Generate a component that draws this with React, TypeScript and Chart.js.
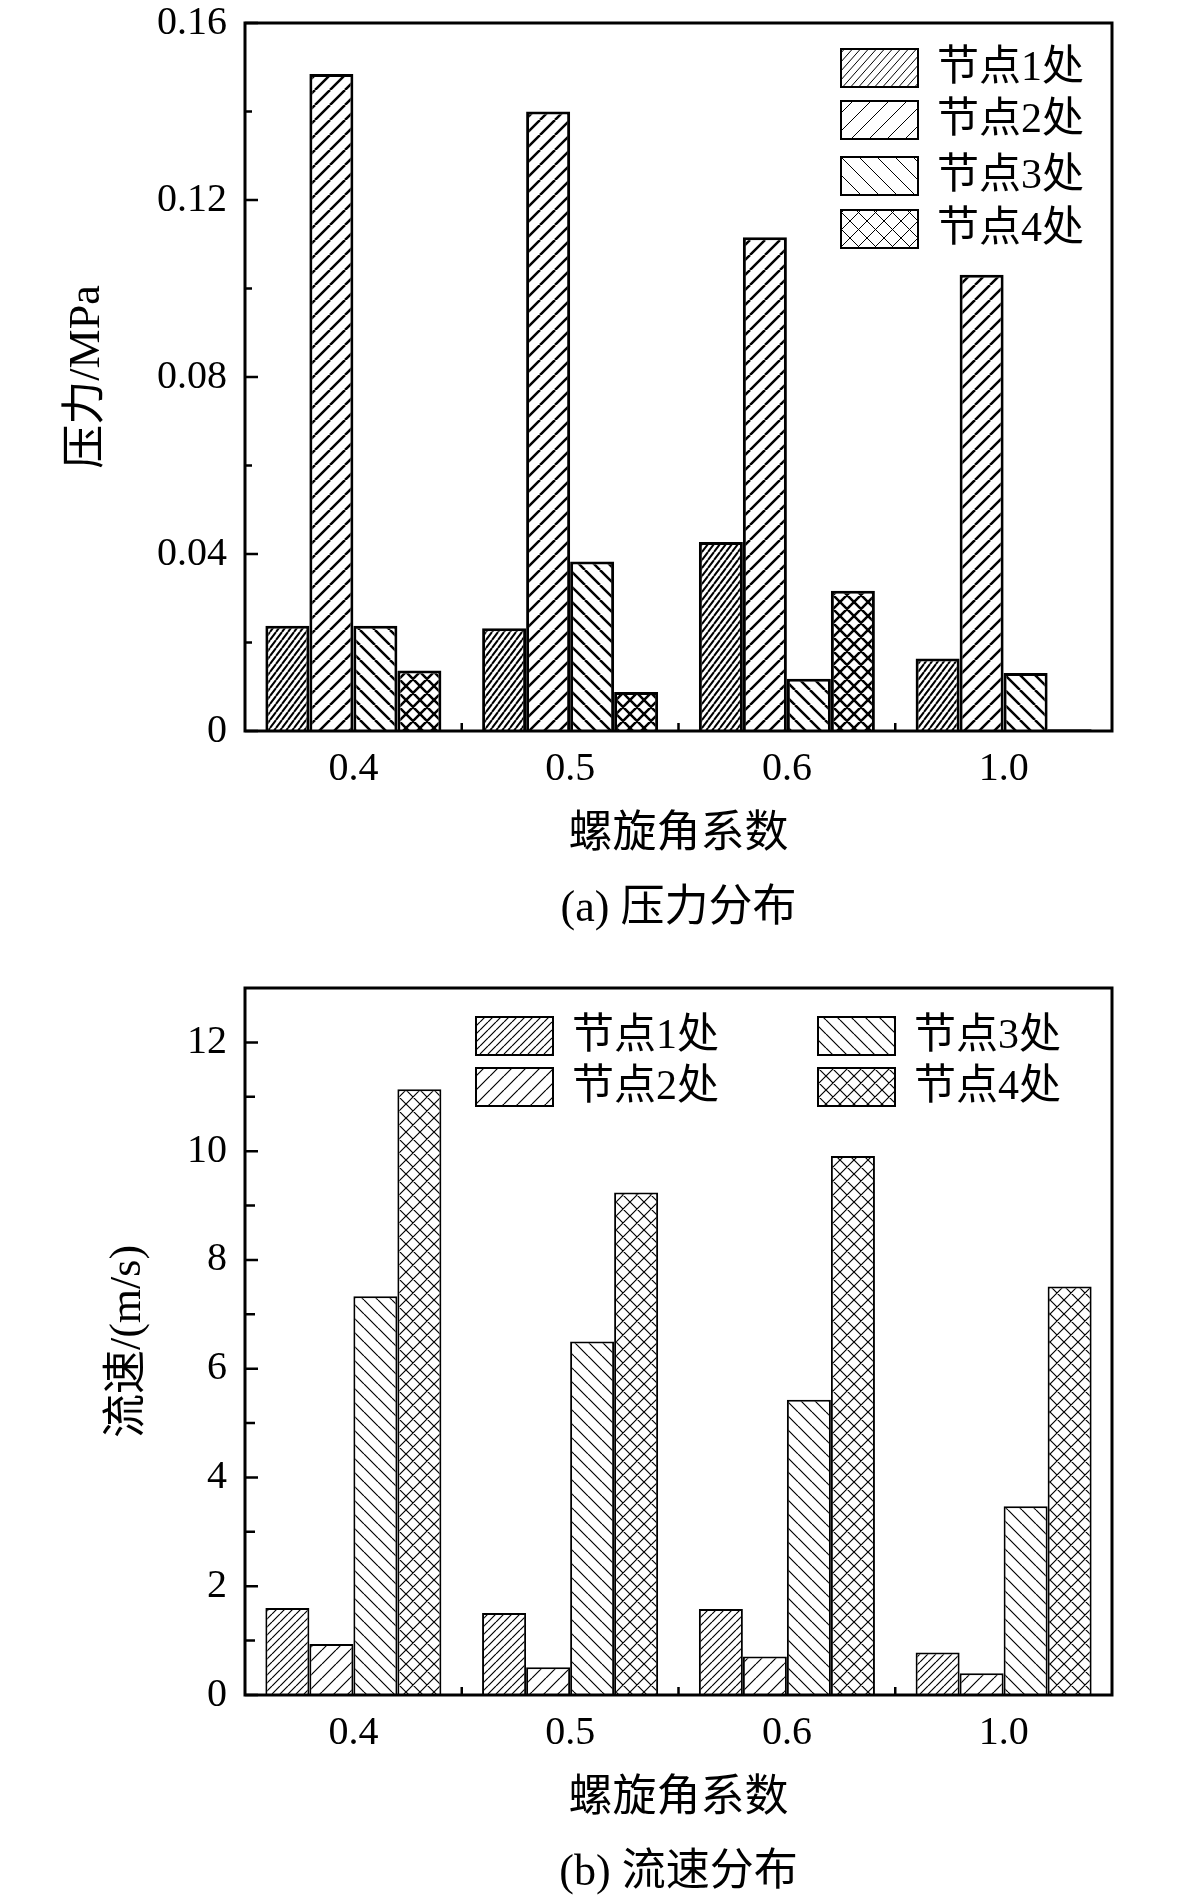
import React, { useEffect, useRef } from 'react';
import { Chart, registerables } from 'chart.js';
Chart.register(...registerables);

// ---------- data ----------
const categories = ['0.4', '0.5', '0.6', '1.0'];
const seriesNames = ['节点1处', '节点2处', '节点3处', '节点4处'];

const pressureNode1 = [0.0238, 0.0232, 0.0427, 0.0164];
const pressureNode2 = [0.1485, 0.1400, 0.1116, 0.1031];
const pressureNode3 = [0.0238, 0.0383, 0.0118, 0.0131];
const pressureNode4 = [0.0137, 0.0088, 0.0317, 0.0004];

const velocityNode1 = [1.60, 1.51, 1.58, 0.78];
const velocityNode2 = [0.94, 0.51, 0.71, 0.40];
const velocityNode3 = [7.33, 6.50, 5.43, 3.47];
const velocityNode4 = [11.14, 9.24, 9.91, 7.51];

const pressureTicks = [0, 0.04, 0.08, 0.12, 0.16];
const pressureTickLabels = ['0', '0.04', '0.08', '0.12', '0.16'];
const pressureMinorTicks = [0.02, 0.06, 0.10, 0.14];

const velocityTicks = [0, 2, 4, 6, 8, 10, 12];
const velocityTickLabels = ['0', '2', '4', '6', '8', '10', '12'];
const velocityMinorTicks = [1, 3, 5, 7, 9, 11];

const xTitle = '螺旋角系数';
const yTitleA = '压力/MPa';
const yTitleB = '流速/(m/s)';
const captionA = '(a) 压力分布';
const captionB = '(b) 流速分布';

// ---------- styling ----------
const FONT = "'Liberation Serif', 'Times New Roman', 'Noto Sans CJK SC', serif";

type Kind = 'fwd' | 'back' | 'cross';

function makePattern(kind: Kind, w: number, h: number, lw: number): CanvasPattern | string {
  const c = document.createElement('canvas');
  c.width = w;
  c.height = h;
  const g = c.getContext('2d');
  if (!g) return '#fff';
  g.fillStyle = '#fff';
  g.fillRect(0, 0, w, h);
  g.strokeStyle = '#000';
  g.lineWidth = lw;
  g.beginPath();
  for (const k of [-1, 0, 1]) {
    if (kind === 'fwd' || kind === 'cross') {
      g.moveTo(k * w, h);
      g.lineTo(k * w + w, 0);
    }
    if (kind === 'back' || kind === 'cross') {
      g.moveTo(k * w, 0);
      g.lineTo(k * w + w, h);
    }
  }
  g.stroke();
  const p = g.createPattern(c, 'repeat');
  return p || '#fff';
}

type LegendItemPos = { dx: number; dy: number; anchor: 'left' | 'right' };

type Decor = {
  minorTicks: number[];
  majorLen: number;
  minorLen: number;
  frameWidth: number;
  yTitle: string;
  yTitleX: number;
  caption: string;
  legendPos: LegendItemPos[];
  legendFills: (CanvasPattern | string)[];
  legendBorder: number;
};

function decorPlugin(d: Decor) {
  return {
    id: 'decor',
    afterDraw(chart: any) {
      const ctx: CanvasRenderingContext2D = chart.ctx;
      const { left, right, top, bottom } = chart.chartArea;
      const ys = chart.scales.y;
      const xs = chart.scales.x;
      ctx.save();
      ctx.strokeStyle = '#000';
      ctx.fillStyle = '#000';
      // frame
      ctx.lineWidth = d.frameWidth;
      ctx.strokeRect(left, top, right - left, bottom - top);
      // y major/minor ticks (inward)
      ctx.lineWidth = 2.5;
      ctx.beginPath();
      ys.ticks.forEach((t: any) => {
        const y = ys.getPixelForValue(t.value);
        ctx.moveTo(left, y);
        ctx.lineTo(left + d.majorLen, y);
      });
      d.minorTicks.forEach((v) => {
        const y = ys.getPixelForValue(v);
        ctx.moveTo(left, y);
        ctx.lineTo(left + d.minorLen, y);
      });
      // x boundary ticks between groups
      for (let i = 0; i < categories.length - 1; i++) {
        const x = (xs.getPixelForValue(i) + xs.getPixelForValue(i + 1)) / 2;
        ctx.moveTo(x, bottom);
        ctx.lineTo(x, bottom - 8);
      }
      ctx.stroke();

      // titles
      ctx.textAlign = 'center';
      ctx.textBaseline = 'middle';
      ctx.font = `44px ${FONT}`;
      const cx = (left + right) / 2;
      ctx.fillText(xTitle, cx, bottom + 104);
      ctx.fillText(d.caption, cx, bottom + 178);
      ctx.save();
      ctx.translate(d.yTitleX, (top + bottom) / 2);
      ctx.rotate(-Math.PI / 2);
      ctx.fillText(d.yTitle, 0, 0);
      ctx.restore();

      // legend
      ctx.font = `42px ${FONT}`;
      ctx.textAlign = 'left';
      const bw = 77;
      const bh = 38;
      seriesNames.forEach((name, i) => {
        const p = d.legendPos[i];
        const bx = p.anchor === 'right' ? right + p.dx : left + p.dx;
        const by = top + p.dy;
        ctx.fillStyle = d.legendFills[i] as any;
        ctx.fillRect(bx, by, bw, bh);
        ctx.lineWidth = d.legendBorder;
        ctx.strokeStyle = '#000';
        ctx.strokeRect(bx, by, bw, bh);
        ctx.fillStyle = '#000';
        ctx.fillText(name, bx + 96, by + bh / 2 + 1);
      });
      ctx.restore();
    },
  };
}

function buildConfig(opts: {
  series: number[][];
  fills: (CanvasPattern | string)[];
  borderWidth: number;
  yMax: number;
  ticks: number[];
  tickLabels: string[];
  padTop: number;
  xHeight: number;
  plugin: any;
}) {
  const tickFont = { family: FONT, size: 40, lineHeight: 1 };
  return {
    type: 'bar' as const,
    data: {
      labels: categories,
      datasets: opts.series.map((vals, i) => ({
        label: seriesNames[i],
        data: vals,
        backgroundColor: opts.fills[i],
        borderColor: '#000',
        borderWidth: opts.borderWidth,
        categoryPercentage: 0.812,
        barPercentage: 1.0,
      })),
    },
    options: {
      responsive: false,
      animation: false,
      layout: { padding: { left: 0, right: 69, top: opts.padTop, bottom: 0 } },
      plugins: { legend: { display: false }, tooltip: { enabled: false } },
      scales: {
        x: {
          grid: { display: false, drawTicks: false },
          border: { display: false },
          ticks: { color: '#000', font: tickFont, padding: 18, maxRotation: 0 },
          afterFit: (s: any) => {
            s.height = opts.xHeight;
            s.paddingLeft = 0;
            s.paddingRight = 0;
          },
        },
        y: {
          min: 0,
          max: opts.yMax,
          grid: { display: false, drawTicks: false },
          border: { display: false },
          afterBuildTicks: (s: any) => {
            s.ticks = opts.ticks.map((v) => ({ value: v }));
          },
          ticks: {
            color: '#000',
            font: tickFont,
            padding: 18,
            callback: (_v: any, i: number) => opts.tickLabels[i],
          },
          afterFit: (s: any) => {
            s.width = 245;
            s.paddingTop = 0;
            s.paddingBottom = 0;
          },
        },
      },
    },
    plugins: [opts.plugin],
  };
}

function useChart(ref: React.RefObject<HTMLCanvasElement | null>, make: () => any) {
  useEffect(() => {
    if (!ref.current) return;
    const chart = new Chart(ref.current, make());
    return () => chart.destroy();
  }, []);
}

export default function App() {
  const refA = useRef<HTMLCanvasElement>(null);
  const refB = useRef<HTMLCanvasElement>(null);

  useChart(refA, () => {
    const fills = [
      makePattern('fwd', 6, 8, 2),
      makePattern('fwd', 15, 15, 2.5),
      makePattern('back', 15, 15, 2.5),
      makePattern('cross', 14, 14, 2.5),
    ];
    const legendFills = [
      makePattern('fwd', 8, 9, 1),
      makePattern('fwd', 18, 18, 1),
      makePattern('back', 18, 18, 1),
      makePattern('cross', 17, 17, 1),
    ];
    const plugin = decorPlugin({
      minorTicks: pressureMinorTicks,
      majorLen: 13,
      minorLen: 7,
      frameWidth: 3,
      yTitle: yTitleA,
      yTitleX: 87,
      caption: captionA,
      legendPos: [
        { dx: -271, dy: 26, anchor: 'right' },
        { dx: -271, dy: 78, anchor: 'right' },
        { dx: -271, dy: 134, anchor: 'right' },
        { dx: -271, dy: 187, anchor: 'right' },
      ],
      legendFills,
      legendBorder: 2,
    });
    return buildConfig({
      series: [pressureNode1, pressureNode2, pressureNode3, pressureNode4],
      fills,
      borderWidth: 3,
      yMax: 0.16,
      ticks: pressureTicks,
      tickLabels: pressureTickLabels,
      padTop: 23,
      xHeight: 219,
      plugin,
    });
  });

  useChart(refB, () => {
    const fills = [
      makePattern('fwd', 8, 8, 1.2),
      makePattern('fwd', 14, 14, 1.2),
      makePattern('back', 14, 14, 1.2),
      makePattern('cross', 14, 14, 1.2),
    ];
    const plugin = decorPlugin({
      minorTicks: velocityMinorTicks,
      majorLen: 13,
      minorLen: 10,
      frameWidth: 3,
      yTitle: yTitleB,
      yTitleX: 128,
      caption: captionB,
      legendPos: [
        { dx: 231, dy: 29, anchor: 'left' },
        { dx: 231, dy: 80, anchor: 'left' },
        { dx: 573, dy: 29, anchor: 'left' },
        { dx: 573, dy: 80, anchor: 'left' },
      ],
      legendFills: fills,
      legendBorder: 2,
    });
    return buildConfig({
      series: [velocityNode1, velocityNode2, velocityNode3, velocityNode4],
      fills,
      borderWidth: 2,
      yMax: 13,
      ticks: velocityTicks,
      tickLabels: velocityTickLabels,
      padTop: 38,
      xHeight: 208,
      plugin,
    });
  });

  return (
    <div style={{ position: 'absolute', left: 0, top: 0, width: 1181, height: 1903, background: '#fff' }}>
      <canvas ref={refA} width={1181} height={950} style={{ position: 'absolute', left: 0, top: 0 }} />
      <canvas ref={refB} width={1181} height={953} style={{ position: 'absolute', left: 0, top: 950 }} />
    </div>
  );
}
